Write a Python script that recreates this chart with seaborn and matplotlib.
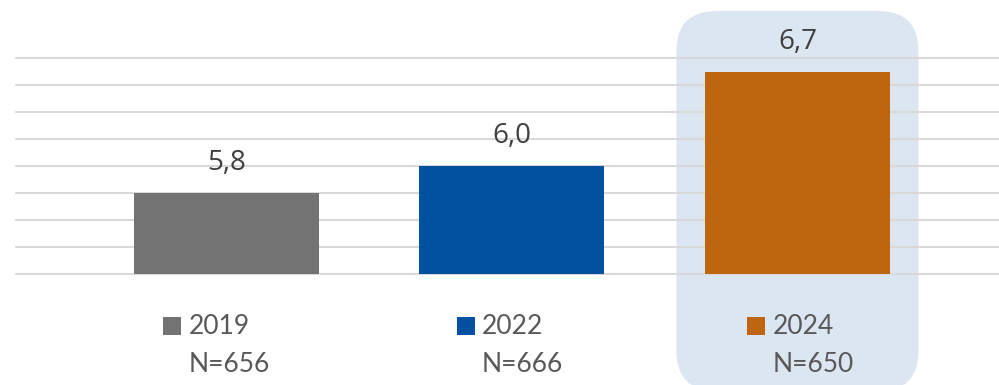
import matplotlib
matplotlib.use("Agg")
import matplotlib.pyplot as plt
from matplotlib.patches import FancyBboxPatch, Rectangle
import seaborn as sns
import pandas as pd

# ---- data ----
years = ["2019", "2022", "2024"]
values = [5.8, 6.0, 6.7]
sample_sizes = ["N=656", "N=666", "N=650"]
colors = ["#737373", "#0052A0", "#BE650F"]

sns.set_theme(style="white")
plt.rcParams['font.family'] = ['Open Sans', 'DejaVu Sans']

W, H = 999, 385
fig = plt.figure(figsize=(W / 100, H / 100), dpi=100)
fig.patch.set_facecolor("white")

ax = fig.add_axes([16 / W, 111 / H, (W - 16) / W, (274 - 58) / H])
ax.patch.set_visible(False)

df = pd.DataFrame({"year": years, "value": values})
sns.barplot(data=df, x="year", y="value", hue="year", palette=colors,
            width=0.648, saturation=1, legend=False, ax=ax, zorder=3,
            linewidth=0, edgecolor="none")

ax.set_ylim(5.2, 6.8)
ax.set_xlim(-0.737, 2.706)
ax.set_yticks([5.2 + 0.2 * i for i in range(9)])
ax.yaxis.grid(True, color="#D9D9D9", linewidth=1.5, zorder=0)
ax.set_axisbelow(True)
for gl in ax.get_ygridlines():
    gl.set_clip_on(False)
ax.set_xticks([])
ax.set_yticklabels([])
ax.tick_params(left=False, bottom=False)
ax.set_xlabel("")
ax.set_ylabel("")
for s in ax.spines.values():
    s.set_visible(False)

# value labels
for i, v in enumerate(values):
    ax.annotate(f"{v:.1f}".replace(".", ","), xy=(i, v), xytext=(0, 21.6),
                textcoords="offset points", ha="center", va="center",
                fontsize=20, color="#404040", annotation_clip=False)

# highlight box behind 2024 (pixel coordinates)
fig.canvas.draw()
cx = ax.transData.transform((2, 0))[0]
bw, top, bottom = 242, H - 11, -6
box = FancyBboxPatch((cx - bw / 2, bottom), bw, top - bottom,
                     boxstyle="round,pad=0,rounding_size=40",
                     transform=None, facecolor="#DCE6F1", edgecolor="none", zorder=-5)
fig.patches.append(box)

# custom legend-like labels under each bar
sq_left = [163, 457, 747]
txt_left = [189, 482, 773]
for i in range(3):
    fig.patches.append(Rectangle((sq_left[i], H - 335), 18, 18, transform=None,
                                 facecolor=colors[i], edgecolor="none", zorder=5))
    fig.text(txt_left[i] / W, (H - 326.5) / H, years[i], ha="left", va="center",
             fontsize=19, color="#595959", family=["Lato", "DejaVu Sans"])
    fig.text(txt_left[i] / W, (H - 364.5) / H, sample_sizes[i], ha="left", va="center",
             fontsize=19, color="#595959", family=["Lato", "DejaVu Sans"])

fig.savefig("out.png", dpi=100)
